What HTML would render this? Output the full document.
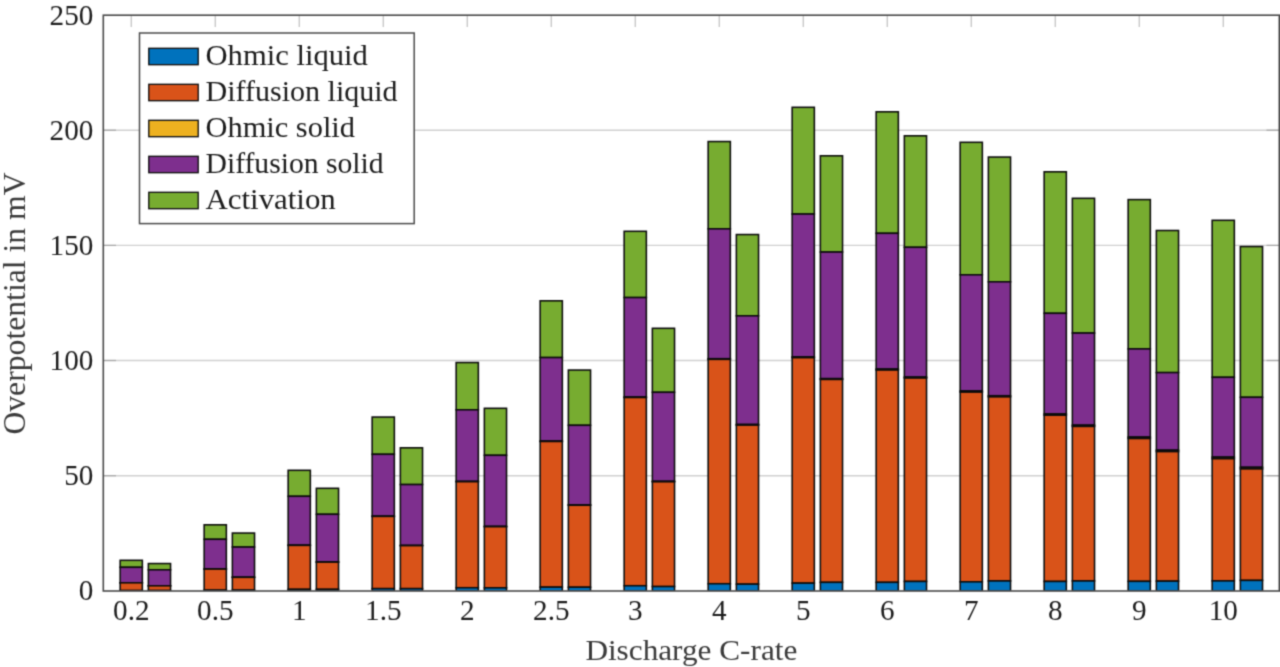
<!DOCTYPE html>
<html><head><meta charset="utf-8"><title>Overpotential chart</title>
<style>
html,body{margin:0;padding:0;background:#fff;}
body{width:1280px;height:667px;overflow:hidden;font-family:"Liberation Serif",serif;}
svg{display:block;}
text{font-family:"Liberation Serif",serif;font-size:29.3px;fill:#1c1c1c;}
.yt text,.xt text{font-size:30px;}
.grid line{stroke:#d0d0d0;stroke-width:1.4;}
.tick line{stroke:#a6a6a6;stroke-width:1.2;}
.tt line{stroke:#c0c0c0;}
.bars rect{stroke:#0c0c0c;stroke-width:1.55;}
.leg rect.s{stroke:#101010;stroke-width:1.35;}
.lab{fill:#3a3a3a;}
.big{font-size:30px;}
</style></head><body>
<svg width="1280" height="667" viewBox="0 0 1280 667">
<defs><filter id="soft" x="0" y="0" width="1280" height="667" filterUnits="userSpaceOnUse" color-interpolation-filters="sRGB"><feConvolveMatrix order="3" kernelMatrix="0.0324 0.1152 0.0324 0.1152 0.4096 0.1152 0.0324 0.1152 0.0324" edgeMode="duplicate" preserveAlpha="true"/></filter></defs>
<rect x="0" y="0" width="1280" height="667" fill="#fff"/>
<g filter="url(#soft)">
<rect x="-5" y="-5" width="1290" height="677" fill="#fff"/>
<g class="grid">
<line x1="103.3" y1="130.2" x2="1279.3" y2="130.2"/>
<line x1="103.3" y1="245.4" x2="1279.3" y2="245.4"/>
<line x1="103.3" y1="360.5" x2="1279.3" y2="360.5"/>
<line x1="103.3" y1="475.7" x2="1279.3" y2="475.7"/>
</g>
<g class="tick">
<line x1="103.3" y1="130.2" x2="116" y2="130.2"/><line x1="1266.5" y1="130.2" x2="1279.3" y2="130.2"/>
<line x1="103.3" y1="245.4" x2="116" y2="245.4"/><line x1="1266.5" y1="245.4" x2="1279.3" y2="245.4"/>
<line x1="103.3" y1="360.5" x2="116" y2="360.5"/><line x1="1266.5" y1="360.5" x2="1279.3" y2="360.5"/>
<line x1="103.3" y1="475.7" x2="116" y2="475.7"/><line x1="1266.5" y1="475.7" x2="1279.3" y2="475.7"/>
</g>
<g class="tick tt"><line x1="131.25" y1="15.2" x2="131.25" y2="27"/><line x1="215.25" y1="15.2" x2="215.25" y2="27"/><line x1="299.25" y1="15.2" x2="299.25" y2="27"/><line x1="383.25" y1="15.2" x2="383.25" y2="27"/><line x1="467.25" y1="15.2" x2="467.25" y2="27"/><line x1="551.25" y1="15.2" x2="551.25" y2="27"/><line x1="635.25" y1="15.2" x2="635.25" y2="27"/><line x1="719.25" y1="15.2" x2="719.25" y2="27"/><line x1="803.25" y1="15.2" x2="803.25" y2="27"/><line x1="887.25" y1="15.2" x2="887.25" y2="27"/><line x1="971.25" y1="15.2" x2="971.25" y2="27"/><line x1="1055.25" y1="15.2" x2="1055.25" y2="27"/><line x1="1139.25" y1="15.2" x2="1139.25" y2="27"/><line x1="1223.25" y1="15.2" x2="1223.25" y2="27"/></g>
<clipPath id="cb"><rect x="100" y="0" width="1180" height="590.7"/></clipPath>
<g class="bars" clip-path="url(#cb)">
<rect x="120.15" y="560.30" width="22.2" height="7.00" fill="#77AC30"/>
<rect x="120.15" y="567.30" width="22.2" height="15.48" fill="#7E2F8E"/>
<rect x="120.15" y="582.78" width="22.2" height="0.03" fill="#EDB120"/>
<rect x="120.15" y="582.82" width="22.2" height="7.73" fill="#D95319"/>
<rect x="120.15" y="590.55" width="22.2" height="0.45" fill="#0072BD"/>
<rect x="148.35" y="563.55" width="22.2" height="6.25" fill="#77AC30"/>
<rect x="148.35" y="569.80" width="22.2" height="15.98" fill="#7E2F8E"/>
<rect x="148.35" y="585.78" width="22.2" height="0.03" fill="#EDB120"/>
<rect x="148.35" y="585.82" width="22.2" height="4.73" fill="#D95319"/>
<rect x="148.35" y="590.55" width="22.2" height="0.45" fill="#0072BD"/>
<rect x="204.15" y="524.80" width="22.2" height="14.50" fill="#77AC30"/>
<rect x="204.15" y="539.30" width="22.2" height="29.71" fill="#7E2F8E"/>
<rect x="204.15" y="569.01" width="22.2" height="0.08" fill="#EDB120"/>
<rect x="204.15" y="569.09" width="22.2" height="21.06" fill="#D95319"/>
<rect x="204.15" y="590.15" width="22.2" height="0.85" fill="#0072BD"/>
<rect x="232.35" y="533.05" width="22.2" height="14.00" fill="#77AC30"/>
<rect x="232.35" y="547.05" width="22.2" height="30.21" fill="#7E2F8E"/>
<rect x="232.35" y="577.26" width="22.2" height="0.08" fill="#EDB120"/>
<rect x="232.35" y="577.34" width="22.2" height="12.81" fill="#D95319"/>
<rect x="232.35" y="590.15" width="22.2" height="0.85" fill="#0072BD"/>
<rect x="288.15" y="470.30" width="22.2" height="26.00" fill="#77AC30"/>
<rect x="288.15" y="496.30" width="22.2" height="48.92" fill="#7E2F8E"/>
<rect x="288.15" y="545.22" width="22.2" height="0.16" fill="#EDB120"/>
<rect x="288.15" y="545.38" width="22.2" height="43.97" fill="#D95319"/>
<rect x="288.15" y="589.35" width="22.2" height="1.65" fill="#0072BD"/>
<rect x="316.35" y="488.30" width="22.2" height="26.00" fill="#77AC30"/>
<rect x="316.35" y="514.30" width="22.2" height="47.67" fill="#7E2F8E"/>
<rect x="316.35" y="561.97" width="22.2" height="0.16" fill="#EDB120"/>
<rect x="316.35" y="562.13" width="22.2" height="27.22" fill="#D95319"/>
<rect x="316.35" y="589.35" width="22.2" height="1.65" fill="#0072BD"/>
<rect x="372.15" y="417.05" width="22.2" height="37.25" fill="#77AC30"/>
<rect x="372.15" y="454.30" width="22.2" height="61.88" fill="#7E2F8E"/>
<rect x="372.15" y="516.18" width="22.2" height="0.24" fill="#EDB120"/>
<rect x="372.15" y="516.42" width="22.2" height="72.23" fill="#D95319"/>
<rect x="372.15" y="588.65" width="22.2" height="2.35" fill="#0072BD"/>
<rect x="400.35" y="447.80" width="22.2" height="36.75" fill="#77AC30"/>
<rect x="400.35" y="484.55" width="22.2" height="60.88" fill="#7E2F8E"/>
<rect x="400.35" y="545.43" width="22.2" height="0.24" fill="#EDB120"/>
<rect x="400.35" y="545.67" width="22.2" height="42.98" fill="#D95319"/>
<rect x="400.35" y="588.65" width="22.2" height="2.35" fill="#0072BD"/>
<rect x="456.15" y="362.55" width="22.2" height="47.25" fill="#77AC30"/>
<rect x="456.15" y="409.80" width="22.2" height="71.59" fill="#7E2F8E"/>
<rect x="456.15" y="481.39" width="22.2" height="0.32" fill="#EDB120"/>
<rect x="456.15" y="481.71" width="22.2" height="106.04" fill="#D95319"/>
<rect x="456.15" y="587.75" width="22.2" height="3.25" fill="#0072BD"/>
<rect x="484.35" y="408.30" width="22.2" height="47.00" fill="#77AC30"/>
<rect x="484.35" y="455.30" width="22.2" height="71.09" fill="#7E2F8E"/>
<rect x="484.35" y="526.39" width="22.2" height="0.32" fill="#EDB120"/>
<rect x="484.35" y="526.71" width="22.2" height="61.14" fill="#D95319"/>
<rect x="484.35" y="587.85" width="22.2" height="3.15" fill="#0072BD"/>
<rect x="540.15" y="300.80" width="22.2" height="56.75" fill="#77AC30"/>
<rect x="540.15" y="357.55" width="22.2" height="83.55" fill="#7E2F8E"/>
<rect x="540.15" y="441.10" width="22.2" height="0.40" fill="#EDB120"/>
<rect x="540.15" y="441.50" width="22.2" height="145.65" fill="#D95319"/>
<rect x="540.15" y="587.15" width="22.2" height="3.85" fill="#0072BD"/>
<rect x="568.35" y="370.05" width="22.2" height="55.25" fill="#77AC30"/>
<rect x="568.35" y="425.30" width="22.2" height="79.55" fill="#7E2F8E"/>
<rect x="568.35" y="504.85" width="22.2" height="0.40" fill="#EDB120"/>
<rect x="568.35" y="505.25" width="22.2" height="82.00" fill="#D95319"/>
<rect x="568.35" y="587.25" width="22.2" height="3.75" fill="#0072BD"/>
<rect x="624.15" y="231.30" width="22.2" height="66.25" fill="#77AC30"/>
<rect x="624.15" y="297.55" width="22.2" height="99.51" fill="#7E2F8E"/>
<rect x="624.15" y="397.06" width="22.2" height="0.48" fill="#EDB120"/>
<rect x="624.15" y="397.54" width="22.2" height="188.21" fill="#D95319"/>
<rect x="624.15" y="585.75" width="22.2" height="5.25" fill="#0072BD"/>
<rect x="652.35" y="328.30" width="22.2" height="64.00" fill="#77AC30"/>
<rect x="652.35" y="392.30" width="22.2" height="89.01" fill="#7E2F8E"/>
<rect x="652.35" y="481.31" width="22.2" height="0.48" fill="#EDB120"/>
<rect x="652.35" y="481.79" width="22.2" height="104.76" fill="#D95319"/>
<rect x="652.35" y="586.55" width="22.2" height="4.45" fill="#0072BD"/>
<rect x="708.15" y="141.55" width="22.2" height="87.25" fill="#77AC30"/>
<rect x="708.15" y="228.80" width="22.2" height="129.93" fill="#7E2F8E"/>
<rect x="708.15" y="358.73" width="22.2" height="0.64" fill="#EDB120"/>
<rect x="708.15" y="359.37" width="22.2" height="224.38" fill="#D95319"/>
<rect x="708.15" y="583.75" width="22.2" height="7.25" fill="#0072BD"/>
<rect x="736.35" y="234.55" width="22.2" height="81.25" fill="#77AC30"/>
<rect x="736.35" y="315.80" width="22.2" height="108.68" fill="#7E2F8E"/>
<rect x="736.35" y="424.48" width="22.2" height="0.64" fill="#EDB120"/>
<rect x="736.35" y="425.12" width="22.2" height="159.03" fill="#D95319"/>
<rect x="736.35" y="584.15" width="22.2" height="6.85" fill="#0072BD"/>
<rect x="792.15" y="107.30" width="22.2" height="106.75" fill="#77AC30"/>
<rect x="792.15" y="214.05" width="22.2" height="142.85" fill="#7E2F8E"/>
<rect x="792.15" y="356.90" width="22.2" height="0.80" fill="#EDB120"/>
<rect x="792.15" y="357.70" width="22.2" height="225.45" fill="#D95319"/>
<rect x="792.15" y="583.15" width="22.2" height="7.85" fill="#0072BD"/>
<rect x="820.35" y="155.80" width="22.2" height="96.25" fill="#77AC30"/>
<rect x="820.35" y="252.05" width="22.2" height="126.60" fill="#7E2F8E"/>
<rect x="820.35" y="378.65" width="22.2" height="0.80" fill="#EDB120"/>
<rect x="820.35" y="379.45" width="22.2" height="202.90" fill="#D95319"/>
<rect x="820.35" y="582.35" width="22.2" height="8.65" fill="#0072BD"/>
<rect x="876.15" y="111.80" width="22.2" height="121.50" fill="#77AC30"/>
<rect x="876.15" y="233.30" width="22.2" height="135.77" fill="#7E2F8E"/>
<rect x="876.15" y="369.07" width="22.2" height="0.96" fill="#EDB120"/>
<rect x="876.15" y="370.03" width="22.2" height="212.32" fill="#D95319"/>
<rect x="876.15" y="582.35" width="22.2" height="8.65" fill="#0072BD"/>
<rect x="904.35" y="135.80" width="22.2" height="111.50" fill="#77AC30"/>
<rect x="904.35" y="247.30" width="22.2" height="129.77" fill="#7E2F8E"/>
<rect x="904.35" y="377.07" width="22.2" height="0.96" fill="#EDB120"/>
<rect x="904.35" y="378.03" width="22.2" height="203.42" fill="#D95319"/>
<rect x="904.35" y="581.45" width="22.2" height="9.55" fill="#0072BD"/>
<rect x="960.15" y="142.30" width="22.2" height="132.50" fill="#77AC30"/>
<rect x="960.15" y="274.80" width="22.2" height="116.19" fill="#7E2F8E"/>
<rect x="960.15" y="390.99" width="22.2" height="1.12" fill="#EDB120"/>
<rect x="960.15" y="392.11" width="22.2" height="189.74" fill="#D95319"/>
<rect x="960.15" y="581.85" width="22.2" height="9.15" fill="#0072BD"/>
<rect x="988.35" y="157.05" width="22.2" height="124.75" fill="#77AC30"/>
<rect x="988.35" y="281.80" width="22.2" height="113.94" fill="#7E2F8E"/>
<rect x="988.35" y="395.74" width="22.2" height="1.12" fill="#EDB120"/>
<rect x="988.35" y="396.86" width="22.2" height="184.09" fill="#D95319"/>
<rect x="988.35" y="580.95" width="22.2" height="10.05" fill="#0072BD"/>
<rect x="1044.15" y="171.80" width="22.2" height="141.50" fill="#77AC30"/>
<rect x="1044.15" y="313.30" width="22.2" height="100.61" fill="#7E2F8E"/>
<rect x="1044.15" y="413.91" width="22.2" height="1.28" fill="#EDB120"/>
<rect x="1044.15" y="415.19" width="22.2" height="166.26" fill="#D95319"/>
<rect x="1044.15" y="581.45" width="22.2" height="9.55" fill="#0072BD"/>
<rect x="1072.35" y="198.30" width="22.2" height="134.75" fill="#77AC30"/>
<rect x="1072.35" y="333.05" width="22.2" height="92.11" fill="#7E2F8E"/>
<rect x="1072.35" y="425.16" width="22.2" height="1.28" fill="#EDB120"/>
<rect x="1072.35" y="426.44" width="22.2" height="154.51" fill="#D95319"/>
<rect x="1072.35" y="580.95" width="22.2" height="10.05" fill="#0072BD"/>
<rect x="1128.15" y="199.60" width="22.2" height="149.30" fill="#77AC30"/>
<rect x="1128.15" y="348.90" width="22.2" height="88.18" fill="#7E2F8E"/>
<rect x="1128.15" y="437.08" width="22.2" height="1.44" fill="#EDB120"/>
<rect x="1128.15" y="438.52" width="22.2" height="142.83" fill="#D95319"/>
<rect x="1128.15" y="581.35" width="22.2" height="9.65" fill="#0072BD"/>
<rect x="1156.35" y="230.50" width="22.2" height="142.10" fill="#77AC30"/>
<rect x="1156.35" y="372.60" width="22.2" height="77.58" fill="#7E2F8E"/>
<rect x="1156.35" y="450.18" width="22.2" height="1.44" fill="#EDB120"/>
<rect x="1156.35" y="451.62" width="22.2" height="129.53" fill="#D95319"/>
<rect x="1156.35" y="581.15" width="22.2" height="9.85" fill="#0072BD"/>
<rect x="1212.15" y="220.30" width="22.2" height="157.00" fill="#77AC30"/>
<rect x="1212.15" y="377.30" width="22.2" height="79.80" fill="#7E2F8E"/>
<rect x="1212.15" y="457.10" width="22.2" height="1.60" fill="#EDB120"/>
<rect x="1212.15" y="458.70" width="22.2" height="122.20" fill="#D95319"/>
<rect x="1212.15" y="580.90" width="22.2" height="10.10" fill="#0072BD"/>
<rect x="1240.35" y="246.55" width="22.2" height="150.75" fill="#77AC30"/>
<rect x="1240.35" y="397.30" width="22.2" height="70.00" fill="#7E2F8E"/>
<rect x="1240.35" y="467.30" width="22.2" height="1.60" fill="#EDB120"/>
<rect x="1240.35" y="468.90" width="22.2" height="111.50" fill="#D95319"/>
<rect x="1240.35" y="580.40" width="22.2" height="10.60" fill="#0072BD"/>
</g>
<rect x="103.3" y="15.2" width="1176" height="575.8" fill="none" stroke="#4a4a4a" stroke-width="1.6"/>
<g class="yt" text-anchor="end" transform="scale(0.973,1)">
<text x="95.99" y="24.55">250</text>
<text x="95.99" y="139.65">200</text>
<text x="95.99" y="254.95">150</text>
<text x="95.99" y="369.95">100</text>
<text x="95.99" y="485.25">50</text>
<text x="95.99" y="600.35">0</text>
</g>
<g class="xt" transform="scale(0.973,1)"><text x="134.99" y="620.0" text-anchor="middle">0.2</text><text x="221.33" y="620.0" text-anchor="middle">0.5</text><text x="307.66" y="620.0" text-anchor="middle">1</text><text x="393.99" y="620.0" text-anchor="middle">1.5</text><text x="480.32" y="620.0" text-anchor="middle">2</text><text x="566.65" y="620.0" text-anchor="middle">2.5</text><text x="652.98" y="620.0" text-anchor="middle">3</text><text x="739.31" y="620.0" text-anchor="middle">4</text><text x="825.64" y="620.0" text-anchor="middle">5</text><text x="911.97" y="620.0" text-anchor="middle">6</text><text x="998.30" y="620.0" text-anchor="middle">7</text><text x="1084.64" y="620.0" text-anchor="middle">8</text><text x="1170.97" y="620.0" text-anchor="middle">9</text><text x="1257.30" y="620.0" text-anchor="middle">10</text></g>
<text class="lab big" x="585.4" y="659.5" textLength="211.9" lengthAdjust="spacingAndGlyphs" id="xl">Discharge C-rate</text>
<text class="lab big" style="font-size:31px" transform="translate(25.3,434.6) rotate(-90)" textLength="262.2" lengthAdjust="spacingAndGlyphs" id="yl">Overpotential in mV</text>
<g class="leg">
<rect x="139.5" y="33" width="274.7" height="190.6" fill="#fff" stroke="#4c4c4c" stroke-width="1.5"/>
<rect class="s" x="148.8" y="48.3" width="49.4" height="16.4" fill="#0072BD"/>
<rect class="s" x="148.8" y="84.3" width="49.4" height="16.4" fill="#D95319"/>
<rect class="s" x="148.8" y="120.3" width="49.4" height="16.4" fill="#EDB120"/>
<rect class="s" x="148.8" y="156.3" width="49.4" height="16.4" fill="#7E2F8E"/>
<rect class="s" x="148.8" y="192.3" width="49.4" height="16.4" fill="#77AC30"/>
<text x="205.5" y="64.5" class="big" textLength="162.4" lengthAdjust="spacingAndGlyphs" id="l1">Ohmic liquid</text>
<text x="205.5" y="100.5" class="big" textLength="192.1" lengthAdjust="spacingAndGlyphs" id="l2">Diffusion liquid</text>
<text x="205.5" y="136.5" class="big" textLength="149.5" lengthAdjust="spacingAndGlyphs" id="l3">Ohmic solid</text>
<text x="205.5" y="172.5" class="big" textLength="178.1" lengthAdjust="spacingAndGlyphs" id="l4">Diffusion solid</text>
<text x="205.5" y="208.5" class="big" textLength="130.3" lengthAdjust="spacingAndGlyphs" id="l5">Activation</text>
</g>
</g>
</svg>
</body></html>
